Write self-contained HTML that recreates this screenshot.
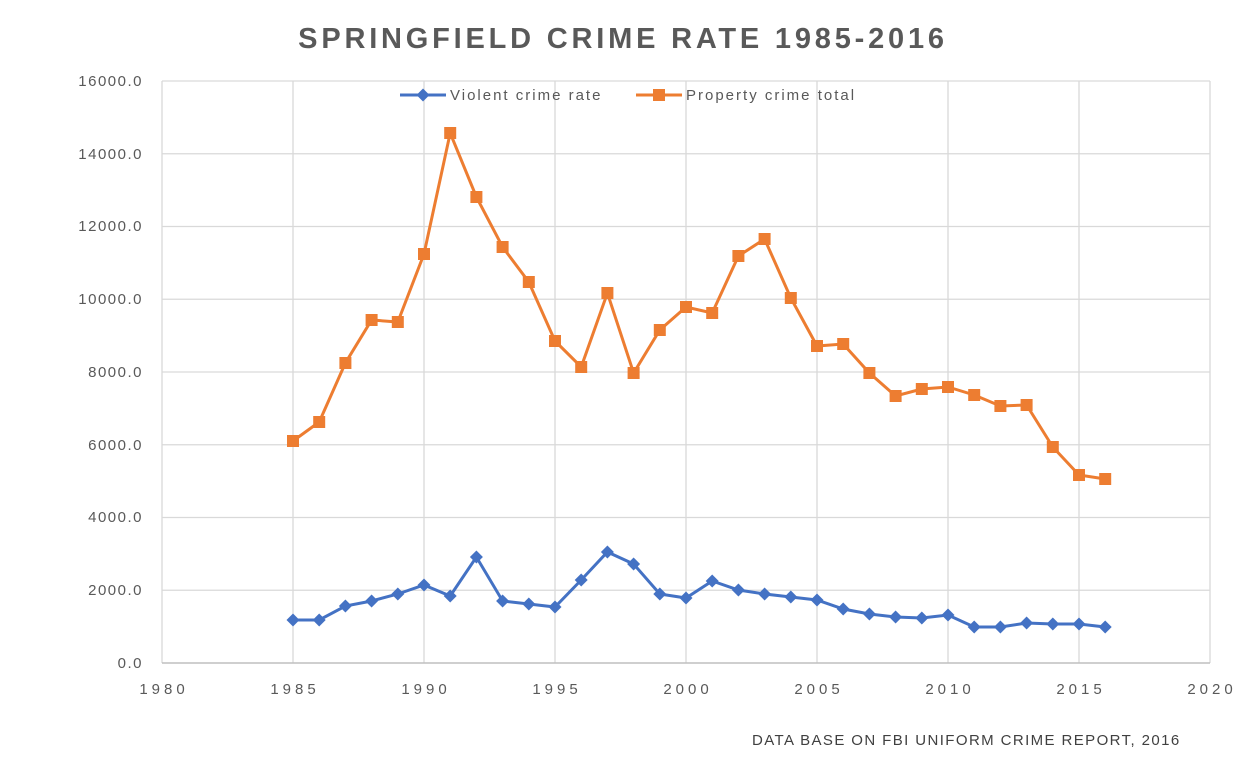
<!DOCTYPE html>
<html><head><meta charset="utf-8"><style>
html,body{margin:0;padding:0;background:#fff;}
svg{display:block;font-family:"Liberation Sans",sans-serif;}
</style></head><body>
<svg width="1248" height="769" viewBox="0 0 1248 769" xmlns="http://www.w3.org/2000/svg" xmlns:xlink="http://www.w3.org/1999/xlink">
<defs>
<rect id="sq" x="-6" y="-6" width="12" height="12" fill="#ED7D31"/>
<polygon id="dm" points="0,-6.5 6.5,0 0,6.5 -6.5,0" fill="#4472C4"/>
</defs>
<rect width="1248" height="769" fill="#fff"/>
<text x="623" y="48" text-anchor="middle" font-size="29" font-weight="bold" fill="#595959" letter-spacing="3.8">SPRINGFIELD CRIME RATE 1985-2016</text>
<g stroke="#d9d9d9" stroke-width="1.3">
<line x1="162" y1="81" x2="1210" y2="81"/><line x1="162" y1="153.75" x2="1210" y2="153.75"/>
<line x1="162" y1="226.5" x2="1210" y2="226.5"/><line x1="162" y1="299.25" x2="1210" y2="299.25"/>
<line x1="162" y1="372" x2="1210" y2="372"/><line x1="162" y1="444.75" x2="1210" y2="444.75"/>
<line x1="162" y1="517.5" x2="1210" y2="517.5"/><line x1="162" y1="590.25" x2="1210" y2="590.25"/>
<line x1="162" y1="81" x2="162" y2="663"/><line x1="293" y1="81" x2="293" y2="663"/>
<line x1="424" y1="81" x2="424" y2="663"/><line x1="555" y1="81" x2="555" y2="663"/>
<line x1="686" y1="81" x2="686" y2="663"/><line x1="817" y1="81" x2="817" y2="663"/>
<line x1="948" y1="81" x2="948" y2="663"/><line x1="1079" y1="81" x2="1079" y2="663"/>
<line x1="1210" y1="81" x2="1210" y2="663"/>
</g>
<line x1="162" y1="663" x2="1210" y2="663" stroke="#bfbfbf" stroke-width="1.5"/>
<g font-size="15" fill="#595959" text-anchor="end" letter-spacing="1.5">
<text x="143" y="86">16000.0</text><text x="143" y="159">14000.0</text><text x="143" y="231">12000.0</text>
<text x="143" y="304">10000.0</text><text x="143" y="377">8000.0</text><text x="143" y="450">6000.0</text>
<text x="143" y="522">4000.0</text><text x="143" y="595">2000.0</text><text x="143" y="668">0.0</text>
</g>
<g font-size="15" fill="#595959" text-anchor="middle" letter-spacing="4">
<text x="164" y="694">1980</text><text x="295" y="694">1985</text><text x="426" y="694">1990</text>
<text x="557" y="694">1995</text><text x="688" y="694">2000</text><text x="819" y="694">2005</text>
<text x="950" y="694">2010</text><text x="1081" y="694">2015</text><text x="1212" y="694">2020</text>
</g>
<text x="752" y="745" font-size="15" fill="#404040" letter-spacing="1.4">DATA BASE ON FBI UNIFORM CRIME REPORT, 2016</text>
<line x1="400" y1="95" x2="446" y2="95" stroke="#4472C4" stroke-width="3"/>
<use xlink:href="#dm" x="423" y="95"/>
<text x="450" y="100" font-size="15" fill="#595959" letter-spacing="2">Violent crime rate</text>
<line x1="636" y1="95" x2="682" y2="95" stroke="#ED7D31" stroke-width="3"/>
<use xlink:href="#sq" x="659" y="95"/>
<text x="686" y="100" font-size="15" fill="#595959" letter-spacing="2">Property crime total</text>

<polyline fill="none" stroke="#ED7D31" stroke-width="3" points="293,441 319.2,422 345.4,363 371.6,320 397.8,322 424,254 450.2,133 476.4,197 502.6,247 528.8,282 555,341 581.2,367 607.4,293 633.6,373 659.8,330 686,307 712.2,313 738.4,256 764.6,239 790.8,298 817,346 843.2,344 869.4,373 895.6,396 921.8,389 948,387 974.2,395 1000.4,406 1026.6,405 1052.8,447 1079,475 1105.2,479"/>
<polyline fill="none" stroke="#4472C4" stroke-width="3" points="293,620 319.2,620 345.4,606 371.6,601 397.8,594 424,585 450.2,596 476.4,557 502.6,601 528.8,604 555,607 581.2,580 607.4,552 633.6,564 659.8,594 686,598 712.2,581 738.4,590 764.6,594 790.8,597 817,600 843.2,609 869.4,614 895.6,617 921.8,618 948,615 974.2,627 1000.4,627 1026.6,623 1052.8,624 1079,624 1105.2,627"/>
<g>
<use xlink:href="#sq" x="293" y="441"/><use xlink:href="#sq" x="319.2" y="422"/><use xlink:href="#sq" x="345.4" y="363"/><use xlink:href="#sq" x="371.6" y="320"/><use xlink:href="#sq" x="397.8" y="322"/><use xlink:href="#sq" x="424" y="254"/><use xlink:href="#sq" x="450.2" y="133"/><use xlink:href="#sq" x="476.4" y="197"/><use xlink:href="#sq" x="502.6" y="247"/><use xlink:href="#sq" x="528.8" y="282"/><use xlink:href="#sq" x="555" y="341"/><use xlink:href="#sq" x="581.2" y="367"/><use xlink:href="#sq" x="607.4" y="293"/><use xlink:href="#sq" x="633.6" y="373"/><use xlink:href="#sq" x="659.8" y="330"/><use xlink:href="#sq" x="686" y="307"/><use xlink:href="#sq" x="712.2" y="313"/><use xlink:href="#sq" x="738.4" y="256"/><use xlink:href="#sq" x="764.6" y="239"/><use xlink:href="#sq" x="790.8" y="298"/><use xlink:href="#sq" x="817" y="346"/><use xlink:href="#sq" x="843.2" y="344"/><use xlink:href="#sq" x="869.4" y="373"/><use xlink:href="#sq" x="895.6" y="396"/><use xlink:href="#sq" x="921.8" y="389"/><use xlink:href="#sq" x="948" y="387"/><use xlink:href="#sq" x="974.2" y="395"/><use xlink:href="#sq" x="1000.4" y="406"/><use xlink:href="#sq" x="1026.6" y="405"/><use xlink:href="#sq" x="1052.8" y="447"/><use xlink:href="#sq" x="1079" y="475"/><use xlink:href="#sq" x="1105.2" y="479"/>
</g>
<g>
<use xlink:href="#dm" x="293" y="620"/><use xlink:href="#dm" x="319.2" y="620"/><use xlink:href="#dm" x="345.4" y="606"/><use xlink:href="#dm" x="371.6" y="601"/><use xlink:href="#dm" x="397.8" y="594"/><use xlink:href="#dm" x="424" y="585"/><use xlink:href="#dm" x="450.2" y="596"/><use xlink:href="#dm" x="476.4" y="557"/><use xlink:href="#dm" x="502.6" y="601"/><use xlink:href="#dm" x="528.8" y="604"/><use xlink:href="#dm" x="555" y="607"/><use xlink:href="#dm" x="581.2" y="580"/><use xlink:href="#dm" x="607.4" y="552"/><use xlink:href="#dm" x="633.6" y="564"/><use xlink:href="#dm" x="659.8" y="594"/><use xlink:href="#dm" x="686" y="598"/><use xlink:href="#dm" x="712.2" y="581"/><use xlink:href="#dm" x="738.4" y="590"/><use xlink:href="#dm" x="764.6" y="594"/><use xlink:href="#dm" x="790.8" y="597"/><use xlink:href="#dm" x="817" y="600"/><use xlink:href="#dm" x="843.2" y="609"/><use xlink:href="#dm" x="869.4" y="614"/><use xlink:href="#dm" x="895.6" y="617"/><use xlink:href="#dm" x="921.8" y="618"/><use xlink:href="#dm" x="948" y="615"/><use xlink:href="#dm" x="974.2" y="627"/><use xlink:href="#dm" x="1000.4" y="627"/><use xlink:href="#dm" x="1026.6" y="623"/><use xlink:href="#dm" x="1052.8" y="624"/><use xlink:href="#dm" x="1079" y="624"/><use xlink:href="#dm" x="1105.2" y="627"/>
</g>
</svg>
</body></html>
